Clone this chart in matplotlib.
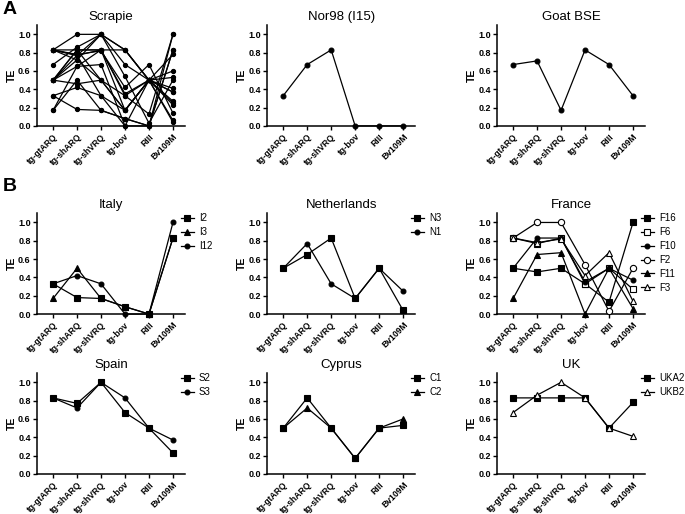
import matplotlib
matplotlib.use("Agg")
from matplotlib import pyplot as plt
from matplotlib.ticker import MultipleLocator, FormatStrFormatter

plt.rcParams["font.family"] = ["Liberation Sans", "DejaVu Sans"]

categories = ["tg-gtARQ", "tg-shARQ", "tg-shVRQ", "tg-bov", "RIII", "Bv109M"]

# Panel A single isolates
nor98_i15 = [0.33, 0.67, 0.83, 0.0, 0.0, 0.0]
goat_bse = [0.67, 0.71, 0.17, 0.83, 0.67, 0.33]

# Panel B, per country
italy_names = ["I2", "I3", "I12"]
italy_values = [
    [0.33, 0.18, 0.17, 0.08, 0.0, 0.83],
    [0.17, 0.50, 0.17, 0.08, 0.0, 0.83],
    [0.33, 0.42, 0.33, 0.0, 0.0, 1.0],
]
netherlands_names = ["N3", "N1"]
netherlands_values = [
    [0.50, 0.65, 0.83, 0.17, 0.50, 0.04],
    [0.50, 0.77, 0.33, 0.17, 0.50, 0.25],
]
france_names = ["F16", "F6", "F10", "F2", "F11", "F3"]
france_values = [
    [0.50, 0.46, 0.50, 0.33, 0.13, 1.0],
    [0.83, 0.77, 0.83, 0.33, 0.50, 0.27],
    [0.50, 0.83, 0.83, 0.35, 0.50, 0.37],
    [0.83, 1.0, 1.0, 0.54, 0.03, 0.50],
    [0.17, 0.65, 0.67, 0.0, 0.50, 0.06],
    [0.83, 0.78, 0.82, 0.42, 0.67, 0.14],
]
spain_names = ["S2", "S3"]
spain_values = [
    [0.83, 0.77, 1.0, 0.67, 0.50, 0.23],
    [0.83, 0.72, 1.0, 0.83, 0.50, 0.37],
]
cyprus_names = ["C1", "C2"]
cyprus_values = [
    [0.50, 0.83, 0.50, 0.17, 0.50, 0.53],
    [0.50, 0.72, 0.50, 0.17, 0.50, 0.60],
]
uk_names = ["UKA2", "UKB2"]
uk_values = [
    [0.83, 0.83, 0.83, 0.83, 0.50, 0.78],
    [0.67, 0.86, 1.0, 0.83, 0.50, 0.41],
]

# marker styles: (marker, filled, size)
STYLES = {
    "sq": ("s", True, 4.5),
    "osq": ("s", False, 4.5),
    "ci": ("o", True, 3.5),
    "oci": ("o", False, 4.5),
    "tr": ("^", True, 4),
    "otr": ("^", False, 4.5),
}

fig = plt.figure(figsize=(6.85, 5.14), dpi=100)

lefts = [0.054, 0.390, 0.7256]
bottoms = [0.755, 0.389, 0.078]
width, height = 0.216, 0.196


def make_ax(row, col, title):
    ax = fig.add_axes([lefts[col], bottoms[row], width, height])
    ax.set_xlim(-0.67, 5.5)
    ax.set_ylim(0, 1.1)
    ax.yaxis.set_major_locator(MultipleLocator(0.2))
    ax.yaxis.set_major_formatter(FormatStrFormatter("%.1f"))
    ax.set_xticks(range(len(categories)))
    ax.set_xticklabels(categories, rotation=45, ha="right",
                       rotation_mode="anchor", fontsize=6.2, fontweight="bold")
    for lab in ax.get_yticklabels():
        lab.set_fontsize(6.5)
        lab.set_fontweight("bold")
    ax.spines["top"].set_visible(False)
    ax.spines["right"].set_visible(False)
    ax.spines["left"].set_linewidth(1.1)
    ax.spines["bottom"].set_linewidth(1.1)
    ax.tick_params(width=1, length=3, pad=1.5)
    ax.set_ylabel("TE", fontsize=7.5, fontweight="bold", labelpad=1)
    ax.set_title(title, fontsize=9.5, pad=4)
    return ax


def draw(ax, values, style, label=None):
    m, filled, ms = STYLES[style]
    ax.plot(range(len(values)), values, color="black", linewidth=0.9,
            marker=m, markersize=ms,
            markerfacecolor="black" if filled else "white",
            markeredgecolor="black", markeredgewidth=0.8,
            label=label, clip_on=False, zorder=3)


def legend(ax):
    ax.legend(loc="upper left", bbox_to_anchor=(0.97, 1.0), frameon=False,
              fontsize=7, handlelength=1.4, labelspacing=0.4,
              handletextpad=0.5, borderaxespad=0.0, borderpad=0.0)


# --- A ---
ax = make_ax(0, 0, "Scrapie")
all_groups = [italy_values, netherlands_values, france_values,
              spain_values, cyprus_values, uk_values]
for group in all_groups:
    for vals in group:
        draw(ax, vals, "ci")
for line in ax.lines:
    line.set_markersize(3)

ax = make_ax(0, 1, "Nor98 (I15)")
draw(ax, nor98_i15, "ci")

ax = make_ax(0, 2, "Goat BSE")
draw(ax, goat_bse, "ci")

# --- B ---
ax = make_ax(1, 0, "Italy")
for name, vals, st in zip(italy_names, italy_values, ["sq", "tr", "ci"]):
    draw(ax, vals, st, name)
legend(ax)

ax = make_ax(1, 1, "Netherlands")
for name, vals, st in zip(netherlands_names, netherlands_values, ["sq", "ci"]):
    draw(ax, vals, st, name)
legend(ax)

ax = make_ax(1, 2, "France")
for name, vals, st in zip(france_names, france_values,
                          ["sq", "osq", "ci", "oci", "tr", "otr"]):
    draw(ax, vals, st, name)
legend(ax)

ax = make_ax(2, 0, "Spain")
for name, vals, st in zip(spain_names, spain_values, ["sq", "ci"]):
    draw(ax, vals, st, name)
legend(ax)

ax = make_ax(2, 1, "Cyprus")
for name, vals, st in zip(cyprus_names, cyprus_values, ["sq", "tr"]):
    draw(ax, vals, st, name)
legend(ax)

ax = make_ax(2, 2, "UK")
for name, vals, st in zip(uk_names, uk_values, ["sq", "otr"]):
    draw(ax, vals, st, name)
legend(ax)

fig.text(0.004, 0.982, "A", fontsize=14, fontweight="bold", va="center")
fig.text(0.004, 0.638, "B", fontsize=14, fontweight="bold", va="center")

fig.savefig("out.png", dpi=100)
